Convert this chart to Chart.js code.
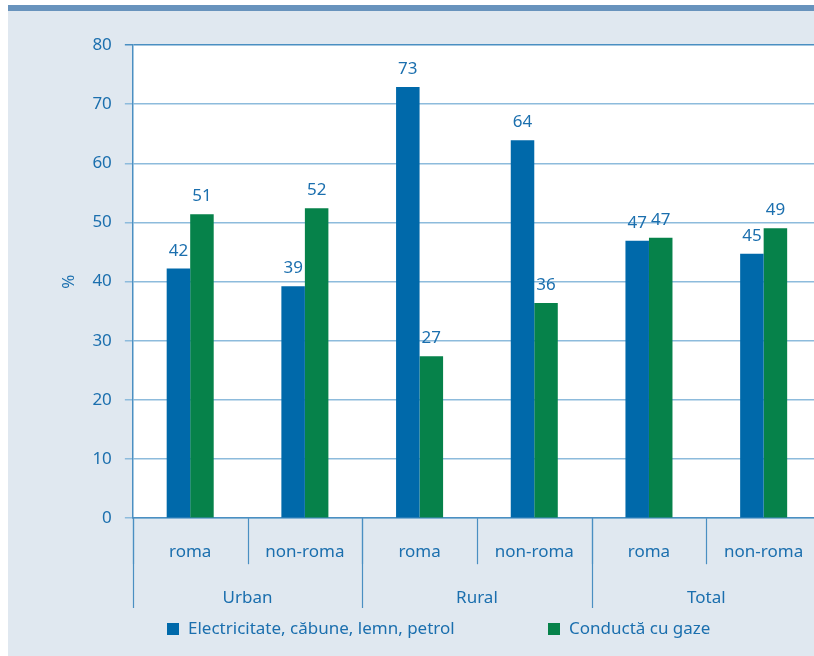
<!DOCTYPE html>
<html lang="ro">
<head>
<meta charset="UTF-8">
<title>Surse de încălzire</title>
<script src="https://cdn.jsdelivr.net/npm/chart.js@4.4.1/dist/chart.umd.min.js"></script>
<style>
    body { margin: 0; background: #fff; overflow: hidden; width: 814px; height: 656px; position: relative; font-family: "Noto Sans", sans-serif; }
    #panel { position: absolute; left: 8px; top: 5px; width: 806px; height: 651px; background: #e0e8f0; border-top: 6px solid #6893bd; box-sizing: border-box; }
    #chartBox { position: absolute; left: 0; top: 0; }
    #legend { position: absolute; top: 617px; left: 0; height: 22px; font-size: 17px; color: #1b6fae; }
    .item { position: absolute; top: 0; white-space: nowrap; line-height: 22px; }
    .box { display: inline-block; width: 12px; height: 12px; vertical-align: -1px; margin-right: 9px; }
</style>
</head>
<body>
<div id="panel"></div>
<canvas id="chartBox" width="822" height="656"></canvas>
<div id="legend"></div>

<script>
    // categories
    const subLabels = ['roma', 'non-roma', 'roma', 'non-roma', 'roma', 'non-roma'];
    const groupLabels = ['Urban', 'Rural', 'Total'];

    // series
    const seriesNames = ['Electricitate, căbune, lemn, petrol', 'Conductă cu gaze'];
    const electricitate = [42.2, 39.2, 72.9, 63.9, 46.9, 44.7];
    const gaze = [51.4, 52.4, 27.4, 36.4, 47.4, 49.0];

    // y axis
    const yMin = 0, yMax = 80, yStep = 10;

    const blue = '#0069aa';
    const green = '#06824a';
    const textColor = '#1b6fae';
    const axisColor = '#4a8fc2';
    const gridColor = '#8dbbdc';

    Chart.defaults.font.family = '"Noto Sans", sans-serif';
    Chart.defaults.font.size = 17;
    Chart.defaults.color = textColor;

    // white plot area
    const plotBackground = {
        id: 'plotBackground',
        beforeDraw(chart) {
            const a = chart.chartArea;
            const ctx = chart.ctx;
            ctx.save();
            ctx.fillStyle = '#ffffff';
            ctx.fillRect(a.left, a.top, a.right - a.left, a.bottom - a.top);
            ctx.restore();
        }
    };

    // value above every bar
    const valueLabels = {
        id: 'valueLabels',
        afterDatasetsDraw(chart) {
            const ctx = chart.ctx;
            ctx.save();
            ctx.font = '17px "Noto Sans", sans-serif';
            ctx.fillStyle = textColor;
            ctx.textAlign = 'center';
            ctx.textBaseline = 'alphabetic';
            chart.data.datasets.forEach((ds, i) => {
                chart.getDatasetMeta(i).data.forEach((bar, j) => {
                    ctx.fillText(Math.round(ds.data[j]), bar.x, bar.y - 13);
                });
            });
            ctx.restore();
        }
    };

    // vertical separators between the category labels, taken from the scales
    const axisSeparators = {
        id: 'axisSeparators',
        afterDraw(chart) {
            const sx = chart.scales.x;
            const sx2 = chart.scales.x2;
            const ctx = chart.ctx;
            function edges(s) {
                let out = [s.left];
                for (let i = 1; i < s.ticks.length; i++) {
                    out.push((s.getPixelForTick(i - 1) + s.getPixelForTick(i)) / 2);
                }
                out.push(s.right);
                return out;
            }
            function line(px, y1, y2) {
                px = Math.round(px) + 0.5;
                ctx.beginPath();
                ctx.moveTo(px, y1);
                ctx.lineTo(px, y2);
                ctx.stroke();
            }
            ctx.save();
            ctx.strokeStyle = axisColor;
            ctx.lineWidth = 1.2;
            edges(sx).forEach(px => line(px, sx.top, sx.top + 46));
            edges(sx2).forEach(px => line(px, sx.top, sx2.bottom - 1));
            ctx.restore();
        }
    };

    const ctx = document.getElementById('chartBox').getContext('2d');
    const chart = new Chart(ctx, {
        type: 'bar',
        data: {
            labels: subLabels,
            datasets: [
                { label: seriesNames[0], data: electricitate, backgroundColor: blue, categoryPercentage: 0.41, barPercentage: 1.0 },
                { label: seriesNames[1], data: gaze, backgroundColor: green, categoryPercentage: 0.41, barPercentage: 1.0 }
            ]
        },
        options: {
            responsive: false,
            animation: false,
            layout: { padding: { top: 45, left: 53, right: 1, bottom: 47 } },
            plugins: {
                legend: { display: false },
                tooltip: { enabled: false }
            },
            scales: {
                x: {
                    offset: true,
                    border: { color: axisColor, width: 1.5 },
                    grid: { display: false },
                    ticks: { padding: 16, color: textColor }
                },
                x2: {
                    type: 'category',
                    labels: groupLabels,
                    position: 'bottom',
                    offset: true,
                    border: { display: false },
                    grid: { display: false },
                    ticks: { padding: 1, color: textColor }
                },
                y: {
                    min: yMin,
                    max: yMax,
                    border: { color: axisColor, width: 1.5 },
                    grid: {
                        color: (c) => c.tick && c.tick.value === yMax ? axisColor : gridColor,
                        lineWidth: 1.5,
                        tickLength: 8
                    },
                    ticks: { stepSize: yStep, padding: 13, color: textColor },
                    title: { display: true, text: '%', color: textColor, padding: { top: 6, bottom: 0 } }
                }
            }
        },
        plugins: [plotBackground, valueLabels, axisSeparators]
    });

    // legend below the axes
    const legend = document.getElementById('legend');
    const legendX = [167, 548];
    [blue, green].forEach((col, i) => {
        const item = document.createElement('div');
        item.className = 'item';
        item.style.left = legendX[i] + 'px';
        item.innerHTML = '<span class="box" style="background:' + col + '"></span>' + seriesNames[i];
        legend.appendChild(item);
    });
</script>
</body>
</html>
